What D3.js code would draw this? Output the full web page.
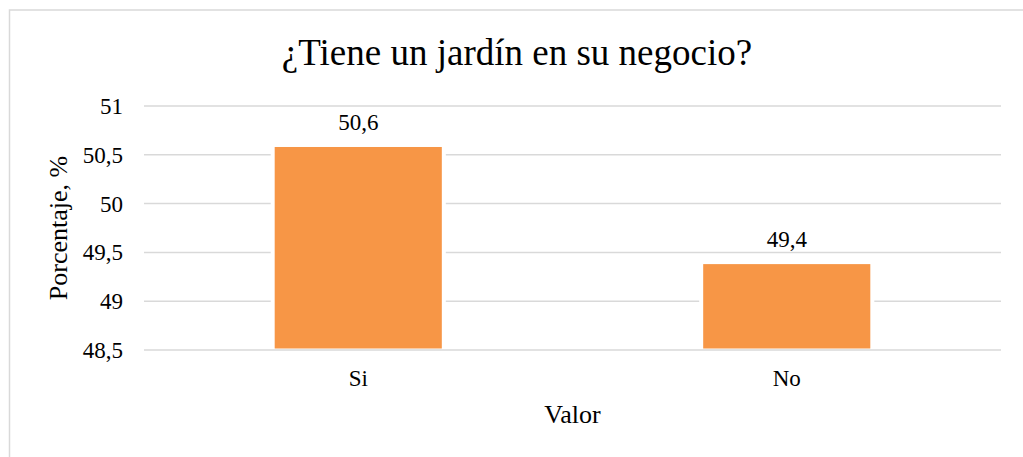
<!DOCTYPE html>
<html>
<head>
<meta charset="utf-8">
<script src="https://cdn.jsdelivr.net/npm/d3@7"></script>
<style>
  body { margin: 0; background: #fff; }
</style>
</head>
<body>
<div id="chart"></div>
<script>
const categories = ["Si", "No"];
const values = [50.58, 49.38];
const valueLabels = ["50,6", "49,4"];
const yTicks = [48.5, 49, 49.5, 50, 50.5, 51];

const width = 1023,
      height = 457,
      margin = ({top: 106, right: 22, bottom: 107, left: 144});
const serif = "'Liberation Serif', 'Times New Roman', serif";

let svg = d3.select("#chart")
    .append("svg")
    .attr("width", width)
    .attr("height", height);

// chart frame, clipped at right and bottom like the original
svg.append("rect")
    .attr("x", 9.5).attr("y", 10)
    .attr("width", 1030).attr("height", 460)
    .attr("fill", "#fff")
    .attr("stroke", "#d9d9d9")
    .attr("stroke-width", 1.5);

let x = d3.scaleBand()
    .domain(categories)
    .range([margin.left, width - margin.right])
    .paddingInner(0.61)
    .paddingOuter(0.305);

let y = d3.scaleLinear()
    .domain([48.5, 51])
    .range([height - margin.bottom, margin.top]);

// gridlines
svg.append("g")
    .selectAll("line")
    .data(yTicks)
    .join("line")
    .attr("x1", margin.left)
    .attr("x2", width - margin.right)
    .attr("y1", d => y(d))
    .attr("y2", d => y(d))
    .attr("stroke", "#d9d9d9")
    .attr("stroke-width", 1.5);

// y tick labels
const fmt = d => String(d).replace(".", ",");
svg.append("g")
    .selectAll("text")
    .data(yTicks)
    .join("text")
    .attr("x", margin.left - 21)
    .attr("y", d => y(d))
    .attr("dy", "0.35em")
    .attr("text-anchor", "end")
    .style("font-family", serif)
    .style("font-size", "23px")
    .text(fmt);

let bar = svg.selectAll(".bar")
    .data(categories.map((c, i) => ({c, v: values[i], label: valueLabels[i]})))
    .join("g")
    .attr("class", "bar");

// white halo so gridlines stop short of the bars
bar.append("rect")
    .attr("fill", "#fff")
    .attr("x", d => x(d.c) - 4)
    .attr("width", x.bandwidth() + 8)
    .attr("y", d => y(d.v))
    .attr("height", d => y(48.5) - y(d.v) - 2);

bar.append("rect")
    .attr("fill", "#f79646")
    .attr("x", d => x(d.c))
    .attr("width", x.bandwidth())
    .attr("y", d => y(d.v))
    .attr("height", d => y(48.5) - y(d.v) - 1.5);

bar.append("text")
    .attr("x", d => x(d.c) + x.bandwidth() / 2)
    .attr("y", d => y(d.v) - 17)
    .attr("text-anchor", "middle")
    .style("font-family", serif)
    .style("font-size", "23px")
    .text(d => d.label);

// category labels
svg.append("g")
    .selectAll("text")
    .data(categories)
    .join("text")
    .attr("x", d => x(d) + x.bandwidth() / 2)
    .attr("y", 386)
    .attr("text-anchor", "middle")
    .style("font-family", serif)
    .style("font-size", "23px")
    .text(d => d);

// title
svg.append("text")
    .attr("x", 517)
    .attr("y", 65)
    .attr("text-anchor", "middle")
    .style("font-family", serif)
    .style("font-size", "37px")
    .text("¿Tiene un jardín en su negocio?");

// axis titles
svg.append("text")
    .attr("x", (margin.left + width - margin.right) / 2)
    .attr("y", 423)
    .attr("text-anchor", "middle")
    .style("font-family", serif)
    .style("font-size", "26px")
    .text("Valor");

svg.append("text")
    .attr("transform", `translate(67, ${(y(48.5) + y(51)) / 2}) rotate(-90)`)
    .attr("text-anchor", "middle")
    .style("font-family", serif)
    .style("font-size", "26px")
    .text("Porcentaje, %");
</script>
</body>
</html>
